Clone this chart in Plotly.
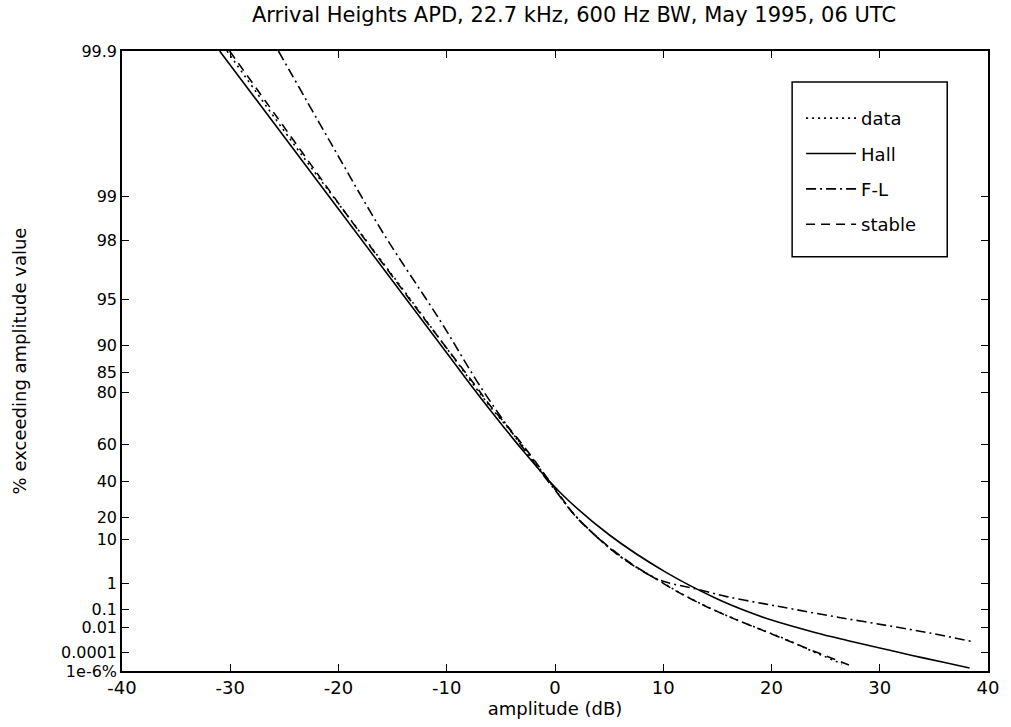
import numpy as np
import plotly.graph_objects as go

# ---- data (amplitude in dB, % exceeding) ----
data_db = [-30.3, -24.0, -19.0, -13.0, -9.4, -6.3, -3.0, 0.0, 2.0, 6.0, 9.5,
           11.8, 14.1, 16.5, 18.9, 21.3, 23.6, 26.5]
data_pct = [99.9, 99.55, 98.6, 94.6, 88.0, 77.0, 59.5, 35.5, 20.0, 5.0, 1.3,
            0.42, 0.125, 0.033, 7.8e-3, 1.45e-3, 1.7e-4, 7e-6]

hall_db = [-30.98, -10.03, -6.84, -2.83, 0.45, 5.03, 10.26, 14.85, 17.9, 20.0,
           24.0, 27.0, 30.0, 33.0, 36.0, 38.3]
hall_pct = [99.9, 88.8, 78.3, 56.2, 33.8, 11.8, 2.1, 0.297, 0.0714, 0.0269,
            4.54e-3, 1.18e-3, 2.8e-4, 5.6e-5, 1.0e-5, 2.3e-6]

fl_db = [-25.55, -20.74, -15.92, -10.56, -6.83, -2.83, 0.0, 2.0, 6.0, 9.5,
         11.0, 13.0, 15.75, 19.26, 22.17, 26.12, 30.72, 34.59, 38.45]
fl_pct = [99.9, 99.575, 98.25, 93.0, 81.3, 57.5, 35.0, 20.0, 5.0, 1.34,
          0.95, 0.665, 0.352, 0.177, 0.0958, 0.0389, 0.0127, 4.2e-3, 1.0e-3]

stable_db = [-30.06, -23.77, -18.95, -13.21, -9.57, -7.29, -6.2, -3.0, 0.0,
             2.0, 6.0, 9.5, 11.8, 14.1, 16.5, 18.9, 21.3, 23.6, 26.5, 27.3]
stable_pct = [99.9, 99.55, 98.58, 94.77, 88.5, 81.6, 76.9, 60.0, 36.0,
              19.8, 5.2, 1.27, 0.41, 0.123, 0.0324, 7.6e-3, 1.34e-3, 1.9e-4,
              1.1e-5, 4.6e-6]

y_tick_pct = [99.9, 99, 98, 95, 90, 85, 80, 60, 40, 20, 10, 1, 0.1, 0.01,
              0.0001, 1e-6]
y_tick_text = ["99.9", "99", "98", "95", "90", "85", "80", "60", "40", "20",
               "10", "1", "0.1", "0.01", "0.0001", "1e-6%"]
x_tick_vals = [-40, -30, -20, -10, 0, 10, 20, 30, 40]
x_tick_text = ["-40", "-30", "-20", "-10", "0", "10", "20", "30", "40"]


def rayleigh(p):
    """Rayleigh-paper ordinate: log10(-ln(P)) for P given in percent."""
    return np.log10(-np.log(np.asarray(p, dtype=float) / 100.0))


FONT = "DejaVu Sans"
W, H = 1011, 727
L, R, T, B = 122, 993, 51, 672

fig = go.Figure()
series = [
    ("data", data_db, data_pct, "2px,4px"),
    ("Hall", hall_db, hall_pct, "solid"),
    ("F-L", fl_db, fl_pct, "10px,4px,2px,4px"),
    ("stable", stable_db, stable_pct, "9px,6px"),
]
for name, xs, ps, dash in series:
    fig.add_trace(go.Scatter(
        x=xs, y=rayleigh(ps), mode="lines", name=name, legendgroup=name,
        line=dict(color="black", width=1.6, dash=dash, shape="spline",
                  smoothing=1.0),
        cliponaxis=True,
    ))

px2x = lambda px: (px - L) / (R - L)
px2y = lambda py: (B - py) / (B - T)

fig.add_shape(type="rect", xref="paper", yref="paper",
              x0=px2x(796), x1=px2x(952), y0=px2y(257), y1=px2y(82),
              line=dict(color="black", width=1.5), fillcolor="white",
              layer="below")

axis_common = dict(
    showline=True, linecolor="black", linewidth=1.5, mirror="ticks",
    ticks="inside", ticklen=7, tickwidth=1, tickcolor="black",
    showgrid=False, zeroline=False,
)

fig.update_layout(
    width=W, height=H,
    margin=dict(l=L, r=W - R, t=T, b=H - B),
    paper_bgcolor="white", plot_bgcolor="white",
    title=dict(text="Arrival Heights APD, 22.7 kHz, 600 Hz BW, May 1995, 06 UTC",
               x=574 / W, xanchor="center", xref="container",
               y=1 - 15 / H, yanchor="middle", yref="container",
               font=dict(family=FONT, size=21, color="black")),
    xaxis=dict(range=[-40, 40], tickvals=x_tick_vals, ticktext=x_tick_text,
               tickfont=dict(family=FONT, size=18, color="black"),
               title=dict(text="amplitude (dB)", standoff=4,
                          font=dict(family=FONT, size=18, color="black")),
               **axis_common),
    yaxis=dict(range=[float(rayleigh(1e-6)), float(rayleigh(99.9))],
               tickvals=list(rayleigh(y_tick_pct)), ticktext=y_tick_text,
               tickfont=dict(family=FONT, size=16, color="black"),
               title=dict(text="% exceeding amplitude value", standoff=30,
                          font=dict(family=FONT, size=18, color="black")),
               **axis_common),
    showlegend=True,
    legend=dict(x=px2x(805), xanchor="left", y=px2y(100), yanchor="top",
                bgcolor="rgba(0,0,0,0)", borderwidth=0,
                font=dict(family=FONT, size=18, color="black"),
                tracegroupgap=9, itemwidth=50),
)

fig.write_html("out.html")
